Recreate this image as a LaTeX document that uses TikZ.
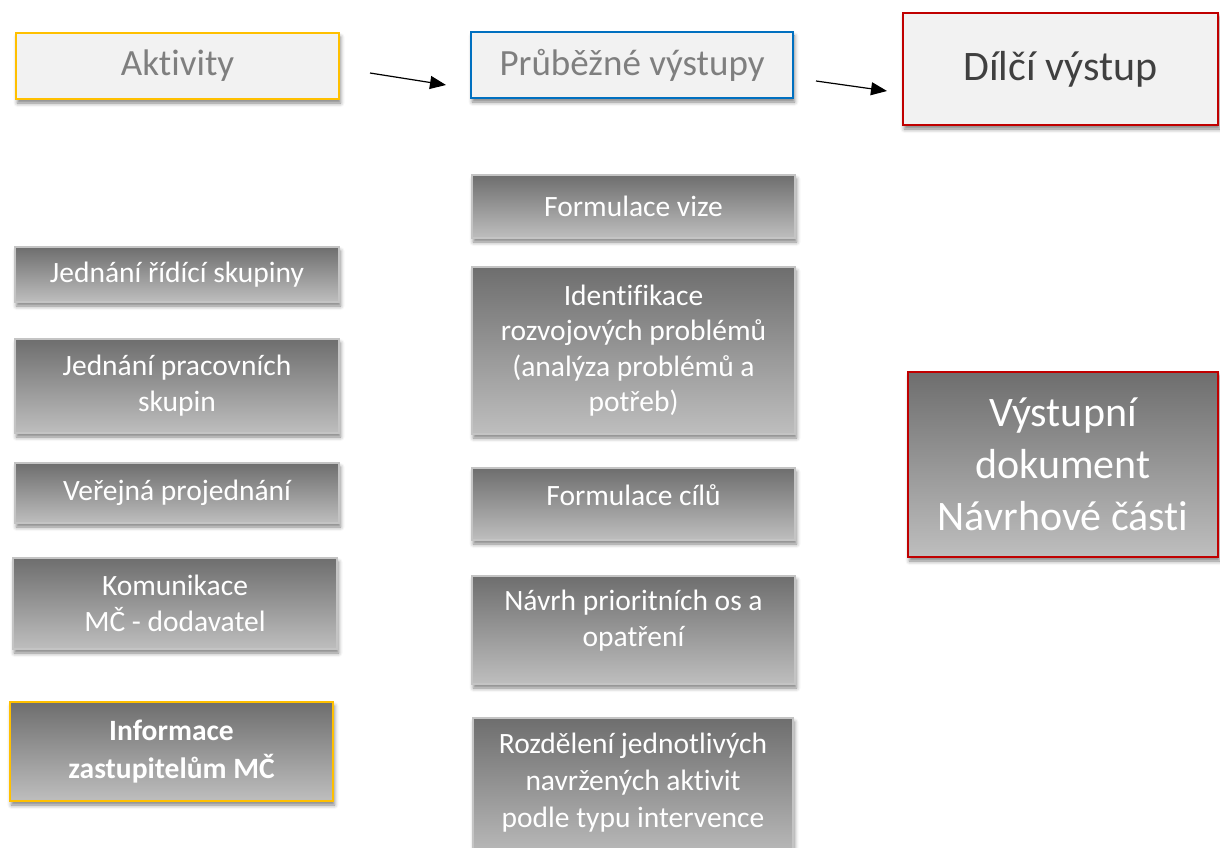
\documentclass[tikz,border=0pt]{standalone}
\usepackage{fontspec}
\setmainfont{Carlito}[Ligatures=NoCommon]
\usetikzlibrary{arrows.meta,shadows.blur}

\definecolor{hdrfill}{HTML}{F2F2F2}
\definecolor{hdrtext}{HTML}{7F7F7F}
\definecolor{hdrdark}{HTML}{404040}
\definecolor{ygold}{HTML}{FFC000}
\definecolor{bblue}{HTML}{0070C0}
\definecolor{rred}{HTML}{C00000}
\definecolor{gtop}{HTML}{6E6E6E}
\definecolor{gbot}{HTML}{BEBEBE}
\definecolor{gedge}{HTML}{C4C4C4}

\tikzset{
  boxshadow/.style={blur shadow={shadow xshift=1.5pt, shadow yshift=-4pt,
      shadow blur radius=4pt, shadow opacity=50}},
  hdrbox/.style={rectangle, fill=hdrfill, line width=1.8pt, inner sep=0pt,
      align=center, boxshadow},
  graybox/.style={rectangle, top color=gtop, bottom color=gbot, draw=gedge,
      line width=1.2pt, inner sep=0pt, align=center, text=white, boxshadow,
      font=\fontsize{29.5}{36}\selectfont},
  boxtext/.style={text=white, align=center, inner sep=0pt},
  flowarrow/.style={line width=1.2pt, -{Triangle[length=16pt,width=13pt]}},
}

\begin{document}
\begin{tikzpicture}[x=1pt, y=-1pt]
\useasboundingbox (0,0) rectangle (1220,848);
\clip (0,0) rectangle (1220,848);

% header row
\node[hdrbox, draw=ygold, text=hdrtext, minimum width=323pt, minimum height=66pt,
      font=\fontsize{37}{44}\selectfont] (akt) at (177.5,66) {Aktivity};
\node[hdrbox, draw=bblue, text=hdrtext, minimum width=322pt, minimum height=66pt,
      font=\fontsize{37}{44}\selectfont] (prub) at (632,65) {Průběžné výstupy};
\node[hdrbox, draw=rred, text=hdrdark, minimum width=315pt, minimum height=112pt,
      font=\fontsize{42}{48}\selectfont] (dilci) at (1060.5,69) {Dílčí výstup};

\coordinate (a1s) at (370,73);
\coordinate (a1e) at (446,85);
\coordinate (a2s) at (816,81);
\coordinate (a2e) at (887,91);
\draw[flowarrow] (a1s) -- (a1e);
\draw[flowarrow] (a2s) -- (a2e);

% activities
\node[graybox, minimum width=324pt, minimum height=55pt] (jrs) at (177,274.5)
  {Jednání řídící skupiny};
\node[graybox, minimum width=324pt, minimum height=94pt] (jps) at (177,386)
  {Jednání pracovních\\skupin};
\node[graybox, minimum width=324pt, minimum height=60pt] (vp) at (177,493)
  {Veřejná projednání};
\node[graybox, minimum width=324pt, minimum height=91pt] (kom) at (175,603.5)
  {Komunikace\\MČ - dodavatel};
\node[graybox, draw=ygold, line width=1.8pt, minimum width=323pt, minimum height=99pt,
      font=\fontsize{29.5}{38}\bfseries\selectfont] (inf) at (171.5,751.5)
  {Informace\\zastupitelům MČ};

% intermediate outputs
\node[graybox, minimum width=323pt, minimum height=63pt] (fv) at (633.5,206.5)
  {Formulace vize};
\node[graybox, minimum width=323pt, minimum height=167pt,
      font=\fontsize{29.5}{35.5}\selectfont] (idp) at (633.5,350.5)
  {Identifikace\\rozvojových problémů\\(analýza problémů a\\potřeb)};
\node[graybox, minimum width=323pt, minimum height=72pt] (fc) at (633.5,504) {};
\node[boxtext, font=\fontsize{29.5}{36}\selectfont] (fct) at (633.5,495)
  {Formulace cílů};
\node[graybox, minimum width=323pt, minimum height=108pt] (npo) at (633.5,630) {};
\node[boxtext, font=\fontsize{29.5}{36}\selectfont] (npot) at (633.5,621)
  {Návrh prioritních os a\\opatření};
\node[graybox, minimum width=320pt, minimum height=145pt] (roz) at (633,790.5) {};
\node[boxtext, font=\fontsize{29.5}{37}\selectfont] (rozt) at (633,783)
  {Rozdělení jednotlivých\\navržených aktivit\\podle typu intervence};

% final document
\node[graybox, draw=rred, line width=1.8pt, minimum width=310pt, minimum height=185pt,
      font=\fontsize{42}{52}\selectfont] (vyst) at (1063,464.5)
  {Výstupní\\dokument\\Návrhové části};
\end{tikzpicture}
\end{document}
